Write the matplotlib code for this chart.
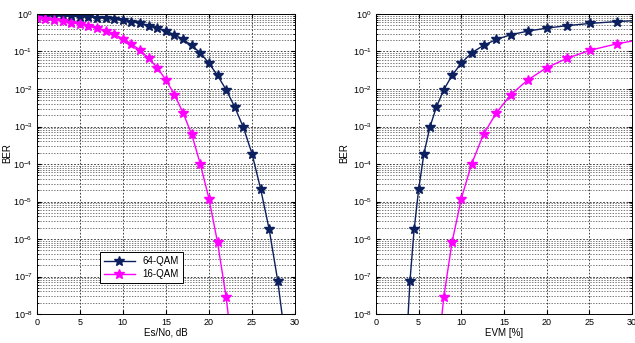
import numpy as np
import matplotlib
matplotlib.use("Agg")
import matplotlib.pyplot as plt
from matplotlib.ticker import LogLocator, FixedLocator, NullFormatter, FuncFormatter

plt.rcParams['font.family'] = ['Liberation Sans', 'DejaVu Sans']
plt.rcParams['mathtext.default'] = 'regular'

# Es/No in dB (sample points)
esno_64 = [0, 1, 2, 3, 4, 5, 6, 7, 8, 9, 10, 11, 12, 13, 14, 15, 16, 17, 18, 19,
           20, 21, 22, 23, 24, 25, 26, 27, 28, 29]
ber_64 = [0.92, 0.91, 0.90, 0.89, 0.87, 0.85, 0.83, 0.80, 0.77, 0.73, 0.68, 0.63,
          0.56, 0.49, 0.42, 0.35, 0.28, 0.21, 0.145, 0.092, 0.049, 0.023, 0.0095,
          0.0033, 9.5e-4, 1.9e-4, 2.2e-5, 1.8e-6, 7.5e-8, 1.2e-9]
esno_16 = [0, 1, 2, 3, 4, 5, 6, 7, 8, 9, 10, 11, 12, 13, 14, 15, 16, 17, 18, 19,
           20, 21, 22, 23]
ber_16 = [0.76, 0.72, 0.68, 0.64, 0.59, 0.54, 0.48, 0.42, 0.35, 0.29, 0.22, 0.16,
          0.108, 0.066, 0.037, 0.0175, 0.0071, 0.0023, 6.2e-4, 1.0e-4, 1.2e-5,
          8.2e-7, 2.8e-8, 3.4e-10]
# EVM [%] matching each Es/No point
evm_64 = [100.0, 89.1, 79.4, 70.8, 63.1, 56.2, 50.1, 44.7, 39.8, 35.5, 31.6, 28.2,
          25.1, 22.4, 20.0, 17.8, 15.8, 14.1, 12.6, 11.2, 10.0, 8.91, 7.94, 7.08,
          6.31, 5.62, 5.01, 4.47, 3.98, 3.55]
evm_16 = evm_64[:24]

labels = ['64-QAM', '16-QAM']
colors = ['#0c1f5e', '#ff00ff']
xticks = [0, 5, 10, 15, 20, 25, 30]

fig = plt.figure(figsize=(6.35, 3.43), dpi=100)
ax1 = fig.add_axes([0.0578, 0.0845, 0.4068, 0.8747])
ax2 = fig.add_axes([0.5921, 0.0845, 0.4032, 0.8747])

def style(ax, xlabel, ylab_x):
    ax.set_yscale('log')
    ax.set_xlim(0, 30)
    ax.set_ylim(1e-8, 1)
    ax.xaxis.set_major_locator(FixedLocator(xticks))
    ax.yaxis.set_major_locator(LogLocator(base=10, numticks=20))
    ax.yaxis.set_minor_locator(LogLocator(base=10, subs=np.arange(2, 10), numticks=20))
    ax.yaxis.set_minor_formatter(NullFormatter())
    ax.yaxis.set_major_formatter(FuncFormatter(lambda v, p: '$10^{%d}$' % int(round(np.log10(v)))))
    ax.tick_params(which='both', direction='in', labelsize=6.5, top=True, right=True)
    ax.tick_params(which='major', length=3, pad=3)
    ax.tick_params(which='minor', length=1.5)
    ax.grid(True, which='major', color='#222222', linestyle=(0, (2, 2)), linewidth=0.6)
    ax.grid(True, which='minor', axis='y', color='#444444', linestyle=(0, (2, 2)), linewidth=0.5)
    ax.set_xlabel(xlabel, fontsize=7, labelpad=0.5)
    ax.set_ylabel('BER', fontsize=7)
    ax.yaxis.set_label_coords(ylab_x, 0.537)
    for s in ax.spines.values():
        s.set_linewidth(0.7)

style(ax1, 'Es/No, dB', -0.096)
style(ax2, 'EVM [%]', -0.105)

ax1.plot(esno_64, ber_64, color=colors[0], marker='*', markersize=7, linewidth=1.0, label=labels[0])
ax1.plot(esno_16, ber_16, color=colors[1], marker='*', markersize=7, linewidth=1.0, label=labels[1])
ax2.plot(evm_64, ber_64, color=colors[0], marker='*', markersize=7, linewidth=1.0)
ax2.plot(evm_16, ber_16, color=colors[1], marker='*', markersize=7, linewidth=1.0)

leg = ax1.legend(loc='lower left', bbox_to_anchor=(0.245, 0.103), borderaxespad=0,
                 fontsize=7, fancybox=False, framealpha=1, edgecolor='black',
                 handlelength=3.2, borderpad=0.4, labelspacing=0.3)
leg.get_frame().set_linewidth(0.7)

fig.savefig('out.png', dpi=100)
